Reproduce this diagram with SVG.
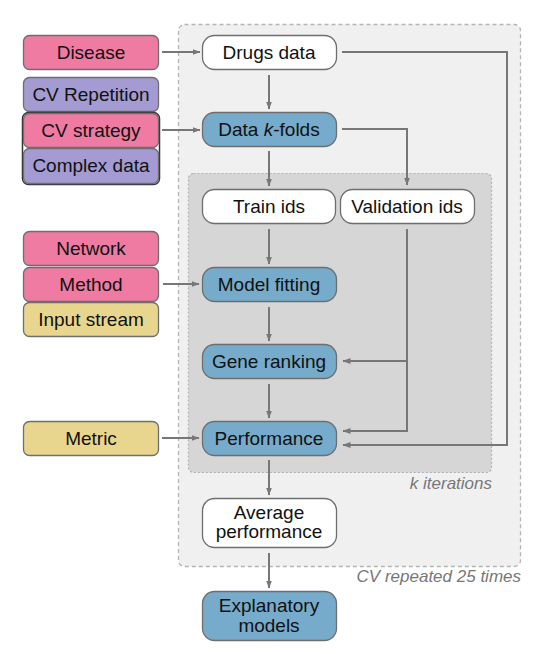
<svg xmlns="http://www.w3.org/2000/svg" width="543" height="654" viewBox="0 0 543 654">
<style>
.n{stroke:#6e6e6e;stroke-width:1.3}
.pink{fill:#ef7ba2}
.purple{fill:#a49bd2}
.yellow{fill:#e9d68e}
.blue{fill:#76abcc}
.white{fill:#ffffff}
text{font-family:"Liberation Sans",Arial,sans-serif;font-size:19px;fill:#111;text-anchor:middle}
.lab{font-style:italic;fill:#777;font-size:17px;text-anchor:end}
.c{fill:none;stroke:#777;stroke-width:2}
</style>
<defs>
<marker id="ah" markerWidth="8" markerHeight="7" refX="7.5" refY="3.5" orient="auto" markerUnits="userSpaceOnUse">
<path d="M0,0.5 L8,3.5 L0,6.5 Z" fill="#777"/>
</marker>
</defs>
<rect width="543" height="654" fill="#ffffff"/>
<g id="outer-box">
<rect x="178.5" y="24.5" width="342" height="542" rx="6" fill="#f0f0f0" stroke="#b5b5b5" stroke-width="1.3" stroke-dasharray="4,3"/>
<text class="lab" x="521" y="582">CV repeated 25 times</text>
</g>
<g id="inner-box">
<rect x="188.5" y="173.5" width="303" height="299" rx="5" fill="#d6d6d6" stroke="#b0b0b0" stroke-width="1.2" stroke-dasharray="2,2"/>
<text class="lab" x="492" y="489">k iterations</text>
</g>
<g id="connectors">
<line class="c" x1="162" y1="52" x2="200" y2="52" marker-end="url(#ah)"/>
<line class="c" x1="269" y1="75" x2="269" y2="109" marker-end="url(#ah)"/>
<line class="c" x1="162" y1="130" x2="200" y2="130" marker-end="url(#ah)"/>
<line class="c" x1="269" y1="151" x2="269" y2="186" marker-end="url(#ah)"/>
<polyline class="c" points="342,129 407,129 407,185" marker-end="url(#ah)"/>
<polyline class="c" points="342,52 507,52 507,445 343,445" marker-end="url(#ah)"/>
<polyline class="c" points="407,229 407,431 343,431" marker-end="url(#ah)"/>
<line class="c" x1="407" y1="361" x2="343" y2="361" marker-end="url(#ah)"/>
<line class="c" x1="269" y1="229" x2="269" y2="264" marker-end="url(#ah)"/>
<line class="c" x1="163" y1="284" x2="199" y2="284" marker-end="url(#ah)"/>
<line class="c" x1="269" y1="307" x2="269" y2="341" marker-end="url(#ah)"/>
<line class="c" x1="269" y1="384" x2="269" y2="418" marker-end="url(#ah)"/>
<line class="c" x1="162" y1="438" x2="199" y2="438" marker-end="url(#ah)"/>
<line class="c" x1="269" y1="460" x2="269" y2="495" marker-end="url(#ah)"/>
<line class="c" x1="269" y1="553" x2="269" y2="588" marker-end="url(#ah)"/>
</g>
<g id="disease"><rect class="n pink" x="23.5" y="35.5" width="135" height="34" rx="6"/><text x="91" y="59">Disease</text></g>
<g id="cv-repetition"><rect class="n purple" x="23.5" y="77.5" width="135" height="34" rx="6"/><text x="91" y="101">CV Repetition</text></g>
<g id="cv-group"><rect x="22.5" y="112.5" width="137" height="72" rx="6" fill="none" stroke="#333" stroke-width="1.5"/></g>
<g id="cv-strategy"><rect class="n pink" x="23.5" y="113.5" width="135" height="34" rx="6"/><text x="91" y="137">CV strategy</text></g>
<g id="complex-data"><rect class="n purple" x="23.5" y="148.5" width="135" height="35" rx="6"/><text x="91" y="172">Complex data</text></g>
<g id="network"><rect class="n pink" x="23.5" y="231.5" width="135" height="34" rx="6"/><text x="91" y="255">Network</text></g>
<g id="method"><rect class="n pink" x="23.5" y="267.5" width="135" height="34" rx="6"/><text x="91" y="291">Method</text></g>
<g id="input-stream"><rect class="n yellow" x="23.5" y="302.5" width="135" height="34" rx="6"/><text x="91" y="326">Input stream</text></g>
<g id="metric"><rect class="n yellow" x="23.5" y="421.5" width="135" height="34" rx="6"/><text x="91" y="445">Metric</text></g>
<g id="drugs-data"><rect class="n white" x="202.5" y="35.5" width="134" height="34" rx="12"/><text x="269" y="59">Drugs data</text></g>
<g id="data-kfolds"><rect class="n blue" x="202.5" y="112.5" width="134" height="34" rx="12"/><text x="269" y="136">Data <tspan font-style="italic">k</tspan>-folds</text></g>
<g id="train-ids"><rect class="n white" x="202.5" y="189.5" width="133" height="34" rx="12"/><text x="269" y="213">Train ids</text></g>
<g id="validation-ids"><rect class="n white" x="340.5" y="189.5" width="134" height="34" rx="12"/><text x="407" y="213">Validation ids</text></g>
<g id="model-fitting"><rect class="n blue" x="202.5" y="267.5" width="134" height="34" rx="12"/><text x="269" y="291">Model fitting</text></g>
<g id="gene-ranking"><rect class="n blue" x="202.5" y="344.5" width="134" height="34" rx="12"/><text x="269" y="368">Gene ranking</text></g>
<g id="performance"><rect class="n blue" x="202.5" y="421.5" width="134" height="34" rx="12"/><text x="269" y="445">Performance</text></g>
<g id="average-performance"><rect class="n white" x="202.5" y="498.5" width="134" height="49" rx="12"/><text x="269" y="519">Average</text><text x="269" y="538">performance</text></g>
<g id="explanatory-models"><rect class="n blue" x="202.5" y="591.5" width="134" height="49" rx="12"/><text x="269" y="612">Explanatory</text><text x="269" y="632">models</text></g>
</svg>
